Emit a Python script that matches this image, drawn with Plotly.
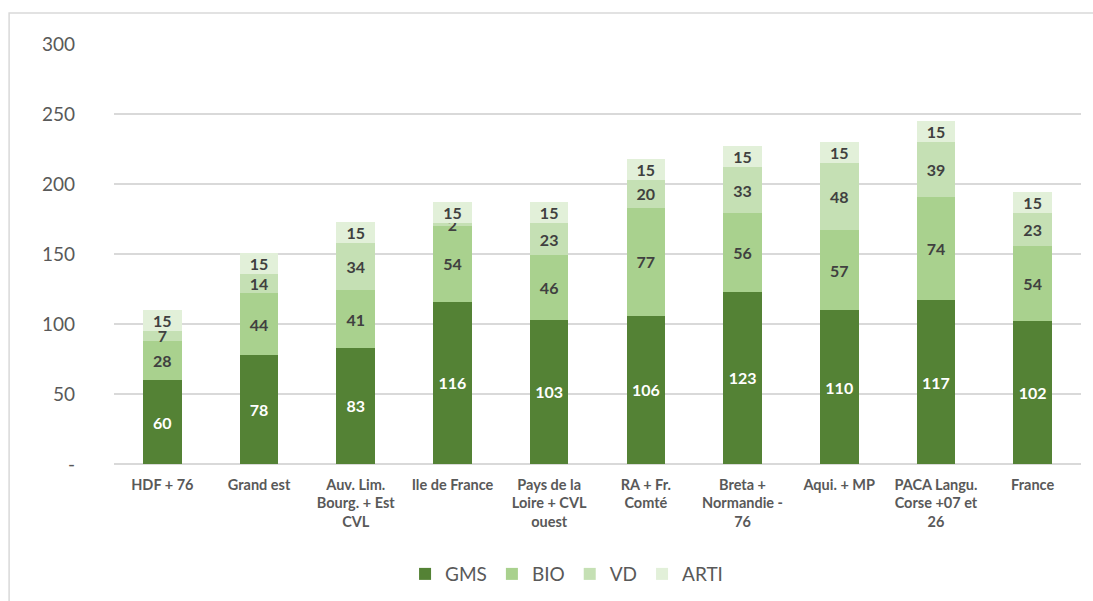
import plotly.graph_objects as go

categories = ["HDF + 76", "Grand est", "Auv. Lim.<br>Bourg. + Est<br>CVL", "Ile de France",
              "Pays de la<br>Loire + CVL<br>ouest", "RA + Fr.<br>Comté", "Breta +<br>Normandie -<br>76",
              "Aqui. + MP", "PACA Langu.<br>Corse +07 et<br>26", "France"]
gms = [60, 78, 83, 116, 103, 106, 123, 110, 117, 102]
bio = [28, 44, 41, 54, 46, 77, 56, 57, 74, 54]
vd = [7, 14, 34, 2, 23, 20, 33, 48, 39, 23]
arti = [15, 15, 15, 15, 15, 15, 15, 15, 15, 15]
series = [("GMS", gms, "#548235", "white"), ("BIO", bio, "#A9D18E", "#404040"),
          ("VD", vd, "#C5E0B4", "#404040"), ("ARTI", arti, "#E2F0D9", "#404040")]
y_ticks = [0, 50, 100, 150, 200, 250, 300]
y_ticktext = ["-", "50", "100", "150", "200", "250", "300"]

FONT = "Lato"
fig = go.Figure()
for name, vals, col, tcol in series:
    fig.add_trace(go.Bar(
        name=name, x=categories, y=vals, marker=dict(color=col, line=dict(width=0)),
        text=[str(v) for v in vals], textposition="inside", insidetextanchor="middle",
        textangle=0, constraintext="none",
        textfont=dict(family=FONT, size=16, color=tcol, weight="bold"),
    ))

fig.update_layout(
    barmode="stack", bargap=0.6,
    width=1093, height=601,
    margin=dict(l=114, r=12, t=44, b=137, autoexpand=False),
    paper_bgcolor="white", plot_bgcolor="white",
    font=dict(family=FONT, color="#595959"),
    uniformtext=dict(minsize=16, mode="show"),
    showlegend=True,
    legend=dict(orientation="h", x=0.468, xanchor="center", y=-0.262, yanchor="middle",
                font=dict(size=19, color="#595959", family=FONT), traceorder="normal",
                itemwidth=30),
    shapes=[dict(type="rect", xref="paper", yref="paper",
                 x0=-105 / 968, x1=1.02, y0=-0.5, y1=(464 - 13) / 420,
                 line=dict(color="#D9D9D9", width=1.5), fillcolor="rgba(0,0,0,0)", layer="below")],
)
fig.update_yaxes(range=[0, 300], tickvals=y_ticks, ticktext=y_ticktext,
                 showgrid=True, gridcolor="#D9D9D9", gridwidth=1.5,
                 zeroline=True, zerolinecolor="#D9D9D9", zerolinewidth=1.5,
                 tickfont=dict(size=19, color="#595959", family=FONT),
                 ticks="", ticklabelstandoff=38, showline=False, automargin=False)
fig.update_xaxes(tickfont=dict(size=14.5, color="#595959", family=FONT, weight="bold"),
                 showline=False, ticks="", ticklabelstandoff=10, automargin=False)

fig.write_html("out.html")
